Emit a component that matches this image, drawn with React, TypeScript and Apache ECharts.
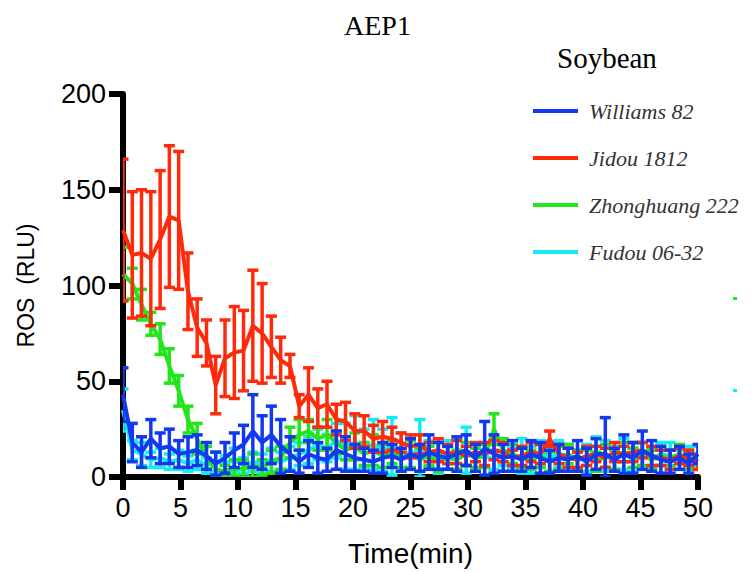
import React, { useEffect, useRef } from "react";
import * as echarts from "echarts";

const times = [0, 0.81, 1.61, 2.42, 3.23, 4.03, 4.84, 5.65, 6.45, 7.26, 8.06, 8.87, 9.68, 10.48, 11.29, 12.1, 12.9, 13.71, 14.52, 15.32, 16.13, 16.94, 17.74, 18.55, 19.35, 20.16, 20.97, 21.77, 22.58, 23.39, 24.19, 25.0, 25.81, 26.61, 27.42, 28.23, 29.03, 29.84, 30.65, 31.45, 32.26, 33.06, 33.87, 34.68, 35.48, 36.29, 37.1, 37.9, 38.71, 39.52, 40.32, 41.13, 41.94, 42.74, 43.55, 44.35, 45.16, 45.97, 46.77, 47.58, 48.39, 49.19, 50.0];

const williamsMean = [43, 18, 13, 20, 15, 16, 12, 13, 14, 11, 7, 10, 14, 17, 24, 18, 22, 16, 12, 8, 12, 10, 9, 14, 12, 10, 9, 8, 10, 11, 9, 12, 10, 13, 11, 10, 12, 14, 10, 15, 12, 10, 11, 9, 12, 10, 8, 10, 9, 11, 8, 12, 12, 9, 12, 10, 14, 11, 9, 8, 10, 7, 12];
const williamsErr = [14, 10, 8, 10, 8, 9, 7, 8, 8, 7, 6, 8, 9, 10, 19, 14, 15, 14, 9, 6, 7, 8, 6, 10, 9, 7, 6, 6, 8, 6, 6, 8, 7, 9, 7, 6, 9, 8, 7, 14, 10, 7, 8, 6, 7, 8, 6, 7, 6, 8, 7, 8, 19, 6, 10, 8, 10, 8, 7, 6, 6, 5, 5];

const jidouMean = [129, 116, 117, 114, 124, 136, 134, 97, 78, 70, 48, 62, 65, 66, 79, 75, 68, 61, 58, 37, 43, 36, 38, 30, 29, 24, 24, 20, 21, 20, 18, 16, 17, 13, 14, 12, 13, 11, 13, 12, 14, 13, 10, 11, 13, 12, 20, 12, 10, 9, 11, 12, 10, 13, 12, 13, 14, 11, 10, 9, 11, 10, 8];
const jidouErr = [37, 33, 33, 35, 36, 37, 36, 20, 15, 12, 15, 20, 24, 21, 29, 26, 16, 12, 6, 6, 14, 10, 12, 8, 10, 9, 8, 7, 8, 6, 5, 6, 5, 5, 6, 5, 6, 5, 5, 6, 5, 5, 4, 5, 5, 5, 4, 5, 5, 4, 5, 4, 5, 5, 4, 5, 4, 5, 4, 5, 4, 4, 4];

const zhongMean = [106, 101, 90, 80, 72, 58, 45, 30, 20, 10, 4, 3, 5, 4, 6, 5, 8, 10, 18, 22, 24, 20, 22, 18, 14, 16, 12, 14, 11, 13, 10, 12, 9, 11, 8, 10, 9, 12, 10, 11, 25, 14, 12, 10, 9, 11, 8, 10, 12, 9, 10, 8, 11, 9, 13, 10, 12, 9, 11, 10, 12, 9, 8];
const zhongErr = [14, 8, 8, 6, 8, 9, 8, 7, 8, 6, 4, 3, 4, 5, 6, 4, 6, 6, 8, 8, 6, 6, 8, 6, 5, 7, 6, 8, 6, 6, 5, 7, 6, 5, 5, 6, 5, 6, 5, 6, 8, 6, 5, 5, 5, 6, 5, 6, 5, 5, 4, 5, 6, 5, 5, 5, 6, 5, 5, 4, 5, 5, 4];

const fudouMean = [35, 14, 12, 9, 10, 8, 9, 7, 9, 6, 8, 7, 9, 6, 8, 7, 9, 8, 10, 12, 14, 17, 15, 19, 16, 18, 15, 17, 14, 16, 13, 12, 14, 12, 10, 13, 12, 14, 10, 11, 9, 12, 10, 11, 9, 13, 10, 12, 11, 9, 10, 12, 11, 10, 12, 9, 11, 10, 12, 11, 9, 10, 11];
const fudouErr = [11, 5, 6, 4, 5, 4, 5, 4, 5, 4, 5, 4, 6, 4, 5, 5, 6, 5, 6, 6, 7, 8, 7, 9, 12, 14, 10, 13, 11, 15, 10, 8, 16, 7, 8, 6, 8, 12, 7, 6, 5, 6, 5, 9, 7, 6, 8, 7, 6, 5, 7, 9, 8, 6, 8, 6, 7, 5, 6, 7, 5, 6, 5];

const seriesNames = ["Williams 82", "Jidou 1812", "Zhonghuang 222", "Fudou 06-32"];
const xTicks = [0, 5, 10, 15, 20, 25, 30, 35, 40, 45, 50];
const yTicks = [0, 50, 100, 150, 200];

const COLORS: Record<string, string> = {
  "Williams 82": "#1238f0",
  "Jidou 1812": "#ff2a0a",
  "Zhonghuang 222": "#22e61a",
  "Fudou 06-32": "#14ecf5",
};

function errData(means: number[], errs: number[]) {
  return times.map((t, i) => [t, Math.max(0, means[i] - errs[i]), means[i] + errs[i]]);
}

function lineData(means: number[]) {
  return times.map((t, i) => [t, means[i]]);
}

function errSeries(name: string, means: number[], errs: number[], z: number) {
  const color = COLORS[name];
  return {
    type: "custom",
    name: name + " SEM",
    z,
    clip: true,
    data: errData(means, errs),
    encode: { x: 0, y: [1, 2] },
    renderItem: (params: any, api: any) => {
      const x = api.value(0);
      const lo = api.coord([x, api.value(1)]);
      const hi = api.coord([x, api.value(2)]);
      const hw = 5.5;
      const style = { stroke: color, lineWidth: 3.5 };
      return {
        type: "group",
        children: [
          { type: "line", shape: { x1: lo[0], y1: lo[1], x2: hi[0], y2: hi[1] }, style },
          { type: "line", shape: { x1: hi[0] - hw, y1: hi[1], x2: hi[0] + hw, y2: hi[1] }, style },
          { type: "line", shape: { x1: lo[0] - hw, y1: lo[1], x2: lo[0] + hw, y2: lo[1] }, style },
        ],
      };
    },
  };
}

function meanSeries(name: string, means: number[], z: number) {
  return {
    type: "line",
    name,
    z,
    data: lineData(means),
    symbol: "none",
    clip: true,
    lineStyle: { color: COLORS[name], width: 4 },
    itemStyle: { color: COLORS[name] },
  };
}

export default function App() {
  const ref = useRef<HTMLDivElement>(null);
  useEffect(() => {
    if (!ref.current) return;
    const chart = echarts.init(ref.current, null, { renderer: "svg" });
    const axisFont = "'Liberation Sans', Arial, sans-serif";
    chart.setOption({
      animation: false,
      backgroundColor: "#ffffff",
      title: [
        {
          text: "AEP1",
          left: 339,
          top: 6,
          textStyle: { fontFamily: "'Liberation Serif', serif", fontWeight: "normal", fontSize: 28, color: "#000" },
        },
        {
          text: "Soybean",
          left: 552,
          top: 38,
          textStyle: { fontFamily: "'Liberation Serif', serif", fontWeight: "normal", fontSize: 29, color: "#000" },
        },
      ],
      legend: {
        data: seriesNames,
        orient: "vertical",
        left: 528,
        top: 95,
        itemGap: 25,
        itemWidth: 45,
        itemHeight: 4,
        icon: "rect",
        textStyle: {
          fontFamily: "'Liberation Serif', serif",
          fontStyle: "italic",
          fontSize: 22,
          color: "#333",
          padding: [0, 0, 0, 6],
        },
      },
      grid: { left: 123, right: 58, top: 94, bottom: 95, containLabel: false },
      xAxis: {
        type: "value",
        min: 0,
        max: 50,
        interval: 5,
        name: "Time(min)",
        nameLocation: "middle",
        nameGap: 62,
        nameTextStyle: { fontFamily: axisFont, fontSize: 28, color: "#000" },
        axisLine: { lineStyle: { color: "#000", width: 6 } },
        axisTick: { length: 13, lineStyle: { color: "#000", width: 6 } },
        axisLabel: {
          fontFamily: axisFont,
          fontSize: 27,
          color: "#000",
          margin: 17,
          customValues: xTicks,
        },
        splitLine: { show: false },
      },
      yAxis: {
        type: "value",
        min: 0,
        max: 200,
        interval: 50,
        name: "ROS  (RLU)",
        nameLocation: "middle",
        nameGap: 86,
        nameTextStyle: { fontFamily: axisFont, fontSize: 23, color: "#000" },
        axisLine: { lineStyle: { color: "#000", width: 6 } },
        axisTick: { length: 14, lineStyle: { color: "#000", width: 6 } },
        axisLabel: {
          fontFamily: axisFont,
          fontSize: 27,
          color: "#000",
          margin: 17,
          customValues: yTicks,
        },
        splitLine: { show: false },
      },
      graphic: [
        { type: "rect", shape: { x: 733, y: 297, width: 4, height: 3 }, style: { fill: COLORS["Zhonghuang 222"] } },
        { type: "rect", shape: { x: 733, y: 389, width: 4, height: 3 }, style: { fill: COLORS["Fudou 06-32"] } },
      ],
      series: [
        errSeries("Fudou 06-32", fudouMean, fudouErr, 2),
        meanSeries("Fudou 06-32", fudouMean, 3),
        errSeries("Zhonghuang 222", zhongMean, zhongErr, 4),
        meanSeries("Zhonghuang 222", zhongMean, 5),
        errSeries("Jidou 1812", jidouMean, jidouErr, 6),
        meanSeries("Jidou 1812", jidouMean, 7),
        errSeries("Williams 82", williamsMean, williamsErr, 8),
        meanSeries("Williams 82", williamsMean, 9),
      ],
    });
    return () => chart.dispose();
  }, []);
  return (
    <div
      ref={ref}
      style={{ position: "fixed", left: 0, top: 0, width: 756, height: 572, background: "#fff" }}
    />
  );
}
